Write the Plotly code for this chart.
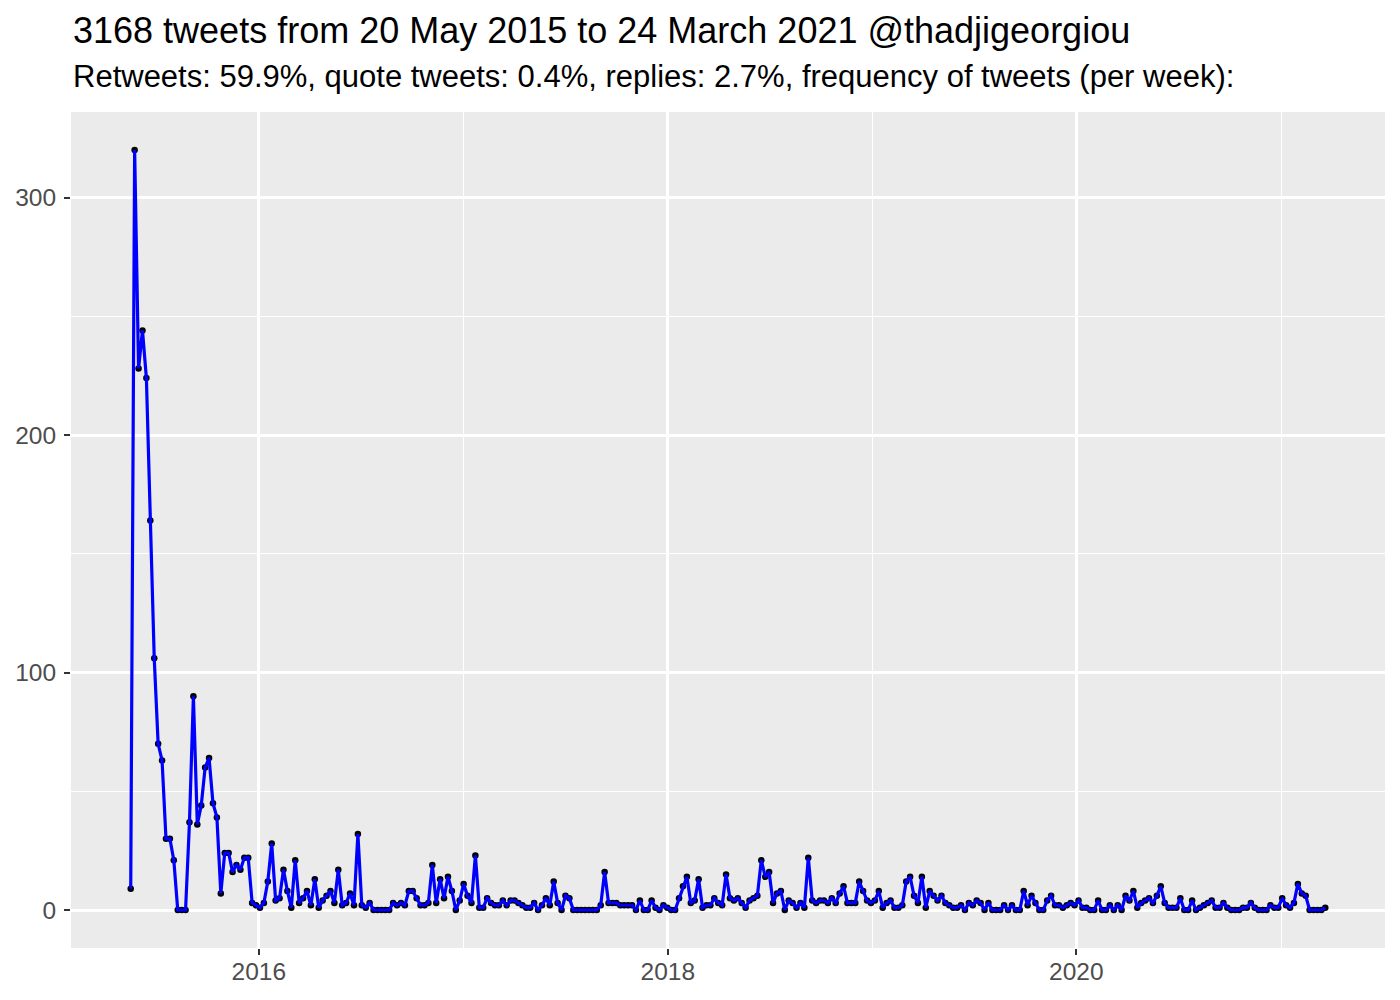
import pandas as pd
import plotly.graph_objects as go

start_week = "2015-05-17"
tweets_per_week = [
    9, 320, 228, 244, 224, 164, 106, 70, 63, 30, 30, 21, 0, 0, 0, 37, 90, 36, 44, 60,
    64, 45, 39, 7, 24, 24, 16, 19, 17, 22, 22,
    3, 2, 1, 3, 12, 28, 4, 5, 17, 8, 1, 21, 3, 5, 8, 2, 13, 1, 4, 6, 8, 3, 17, 2, 3, 7, 2, 32,
    2, 1, 3, 0, 0, 0, 0, 0, 3, 2, 3,
    2, 8, 8, 5, 2, 2, 3, 19, 3, 13, 5, 14, 8, 0, 4, 11, 6, 3, 23, 1, 1, 5, 3, 2, 2, 4, 2, 4, 4,
    3, 2, 1, 1, 3, 0, 2, 5, 2, 12,
    3, 0, 6, 5, 0, 0, 0, 0, 0, 0, 0, 2, 16, 3, 3, 3, 2, 2, 2, 2, 0, 4, 0, 0, 4, 1, 0, 2, 1, 0,
    0, 5, 10, 14, 3, 4, 13, 1,
    2, 2, 5, 3, 2, 15, 5, 4, 5, 3, 1, 4, 5, 6, 21, 14, 16, 3, 7, 8, 0, 4, 3, 1, 3, 1, 22, 4, 3,
    4, 4, 3, 5, 3, 7, 10, 3, 3,
    3, 12, 8, 4, 3, 4, 8, 1, 3, 4, 1, 1, 2, 12, 14, 6, 3, 14, 1, 8, 6, 4, 6, 3, 2, 1, 1, 2, 0,
    3, 2, 4, 3, 0, 3, 0, 0, 0, 2,
    0, 2, 0, 0, 8, 2, 6, 3, 0, 0, 4, 6, 2, 2, 1, 2, 3, 2, 4, 1, 1, 0, 0, 4, 0, 0, 2, 0, 2, 0,
    6, 4, 8, 1, 3, 4, 5, 3,
    6, 10, 3, 1, 1, 1, 5, 0, 0, 4, 0, 1, 2, 3, 4, 1, 1, 3, 1, 0, 0, 0, 1, 1, 3, 1, 0, 0, 0, 2,
    1, 1, 5, 2, 1, 3, 11, 7, 6, 0, 0, 0, 0, 1,
]
x_tick_vals = ["2016-01-01", "2018-01-01", "2020-01-01"]
x_tick_text = ["2016", "2018", "2020"]
x_minor_vals = ["2017-01-01", "2019-01-01", "2021-01-01"]
y_tick_vals = [0, 100, 200, 300]
y_minor_vals = [50, 150, 250]

title_text = "3168 tweets from 20 May 2015 to 24 March 2021 @thadjigeorgiou"
subtitle_text = ("Retweets: 59.9%, quote tweets: 0.4%, replies: 2.7%, "
                 "frequency of tweets (per week):")

weeks = pd.date_range(start_week, periods=len(tweets_per_week), freq="7D")

x_min = weeks[0] - (weeks[-1] - weeks[0]) * 0.05
x_max = weeks[-1] + (weeks[-1] - weeks[0]) * 0.05
y_span = max(tweets_per_week) - min(tweets_per_week)
y_min = min(tweets_per_week) - 0.05 * y_span
y_max = max(tweets_per_week) + 0.05 * y_span

fig = go.Figure()
fig.add_trace(go.Scatter(x=weeks, y=tweets_per_week, mode="markers",
                         marker=dict(color="black", size=6.5), hoverinfo="skip",
                         showlegend=False))
fig.add_trace(go.Scatter(x=weeks, y=tweets_per_week, mode="lines",
                         line=dict(color="#0000FF", width=3.2), showlegend=False))

font_family = "Liberation Sans, Arial, sans-serif"
W, H = 1392, 992
ML, MR, MT, MB = 63, 15, 104, 52
ph = H - MT - MB

axis_common = dict(
    showgrid=True, gridcolor="white", gridwidth=2.6,
    zeroline=False, showline=False, automargin=False,
    ticks="outside", ticklen=6, tickwidth=2.4, tickcolor="#333333",
    tickfont=dict(size=24.5, color="#4D4D4D", family=font_family),
)

fig.update_layout(
    width=W, height=H,
    margin=dict(l=ML, r=MR, t=MT, b=MB),
    paper_bgcolor="white", plot_bgcolor="#EBEBEB",
    font=dict(family=font_family, color="#4D4D4D"),
    xaxis=dict(
        type="date", range=[x_min, x_max],
        tickmode="array", tickvals=x_tick_vals, ticktext=x_tick_text,
        ticklabelstandoff=-4,
        minor=dict(tickmode="array", tickvals=x_minor_vals, showgrid=True,
                   gridcolor="white", gridwidth=1.3, ticks=""),
        **axis_common,
    ),
    yaxis=dict(
        range=[y_min, y_max],
        tickmode="array", tickvals=y_tick_vals,
        ticklabelstandoff=3,
        minor=dict(tickmode="array", tickvals=y_minor_vals, showgrid=True,
                   gridcolor="white", gridwidth=1.3, ticks=""),
        **axis_common,
    ),
    annotations=[
        dict(text=title_text, xref="paper", yref="paper", x=0, y=1 + 81 / ph,
             xanchor="left", yanchor="middle", showarrow=False,
             font=dict(size=36, color="black", family=font_family)),
        dict(text=subtitle_text, xref="paper", yref="paper", x=0, y=1 + 35 / ph,
             xanchor="left", yanchor="middle", showarrow=False,
             font=dict(size=31, color="black", family=font_family)),
    ],
)

fig.write_html("out.html")
